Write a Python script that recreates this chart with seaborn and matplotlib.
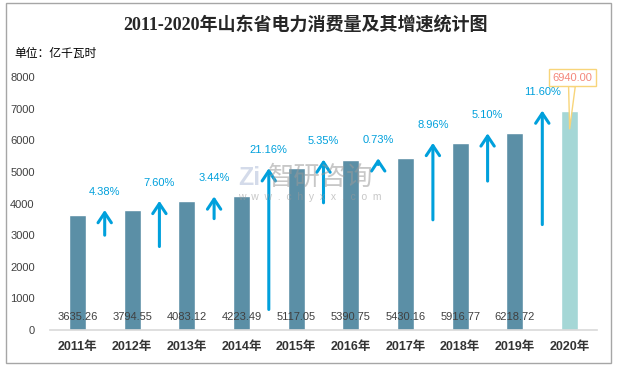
import matplotlib
matplotlib.use("Agg")
import matplotlib.pyplot as plt
import seaborn as sns
from matplotlib.patches import Rectangle

# ================= DATA =================

years = ['2011年', '2012年', '2013年', '2014年', '2015年',
         '2016年', '2017年', '2018年', '2019年', '2020年']
consumption = [3635.26, 3794.55, 4083.12, 4223.49, 5117.05,
               5390.75, 5430.16, 5916.77, 6218.72, 6940.00]
growth_labels = ['4.38%', '7.60%', '3.44%', '21.16%', '5.35%',
                 '0.73%', '8.96%', '5.10%', '11.60%']
y_ticks = [0, 1000, 2000, 3000, 4000, 5000, 6000, 7000, 8000]

bar_colors = ['#5b8fa6'] * 9 + ['#a5d7d6']
arrow_color = '#00a0dc'

# ================= STYLE =================

sns.set_theme(style="white")
plt.rcParams['font.family'] = ['Liberation Sans', 'Noto Sans CJK SC']

fig = plt.figure(figsize=(6.17, 3.69), dpi=100)
ax = fig.add_axes([50 / 617, 39 / 369, 547 / 617, 253 / 369])

# ================= BARS =================

sns.barplot(x=years, y=consumption, hue=years, palette=bar_colors,
            width=0.31, legend=False, saturation=1, ax=ax)

ax.set_xlim(-0.5, 9.5)
ax.set_ylim(0, 8000)
ax.set_yticks(y_ticks)
ax.set_yticklabels([str(t) for t in y_ticks], fontsize=8, color='#404040')
ax.tick_params(axis='y', length=0, pad=11)
ax.tick_params(axis='x', length=0, pad=8)
for lbl in ax.get_xticklabels():
    lbl.set_fontsize(9)
    lbl.set_fontweight('bold')
    lbl.set_color('#333333')

for side in ['left', 'right', 'top']:
    ax.spines[side].set_visible(False)
ax.spines['bottom'].set_color('#d9d9d9')
ax.spines['bottom'].set_linewidth(1.2)
ax.set_xlabel('')
ax.set_ylabel('')

# value labels near the bottom
for i in range(9):
    ax.text(i, 420, f"{consumption[i]:.2f}", ha='center', va='center',
            fontsize=8, color='#404040')

# callout for 2020
ax.annotate(f"{consumption[9]:.2f}", xy=(9.0, 6360), xytext=(9.05, 7980),
            ha='center', va='center', fontsize=8, color='#f4877a',
            bbox=dict(boxstyle='square,pad=0.3', fc='white', ec='#f8d57a', lw=1),
            arrowprops=dict(arrowstyle='wedge,tail_width=0.6', fc='white',
                            ec='#f8d57a', lw=1, shrinkA=0, shrinkB=0),
            annotation_clip=False, zorder=5)

# ================= GROWTH ARROWS =================

for i in range(9):
    prev_v = consumption[i]
    next_v = consumption[i + 1]
    tail = next_v - 5 * (next_v - prev_v)
    ax.annotate('', xy=(i + 0.5, next_v), xytext=(i + 0.5, tail),
                arrowprops=dict(arrowstyle='->,head_length=0.45,head_width=0.3',
                                color=arrow_color, lw=2.2,
                                shrinkA=0, shrinkB=0, mutation_scale=16),
                zorder=4)
    ax.text(i + 0.5, next_v + 570, growth_labels[i], ha='center', va='center',
            fontsize=8, color=arrow_color, zorder=4)

# ================= WATERMARK =================

fig.text(268 / 617, 1 - 177 / 369, '智研咨询', ha='left', va='center',
         fontsize=19, color='#9a9a9a', alpha=0.55, family=['Noto Sans CJK SC'])
fig.text(238 / 617, 1 - 197 / 369, 'w  w  w  .  c  h  y  x  x  .  c  o  m',
         ha='left', va='center', fontsize=7.5, color='#9a9a9a', alpha=0.55)
fig.text(238 / 617, 1 - 178 / 369, 'Zi', ha='left', va='center', fontsize=18,
         fontweight='bold', color='#b8c4dc', alpha=0.6)

# ================= TITLES =================

fig.text(0.495, 0.932, '2011-2020年山东省电力消费量及其增速统计图',
         ha='center', va='center', fontsize=13, fontweight='bold',
         color='#262626', family=['Liberation Serif', 'Noto Sans CJK SC'])
fig.text(0.023, 0.855, '单位：亿千瓦时', ha='left', va='center',
         fontsize=8.5, color='#000000', family=['Noto Sans CJK SC'])

# figure border
fig.add_artist(Rectangle((6 / 617, 6 / 369), 605 / 617, 360 / 369,
                         transform=fig.transFigure, fill=False,
                         ec='#a6a6a6', lw=1))

fig.savefig('out.png', dpi=100)
